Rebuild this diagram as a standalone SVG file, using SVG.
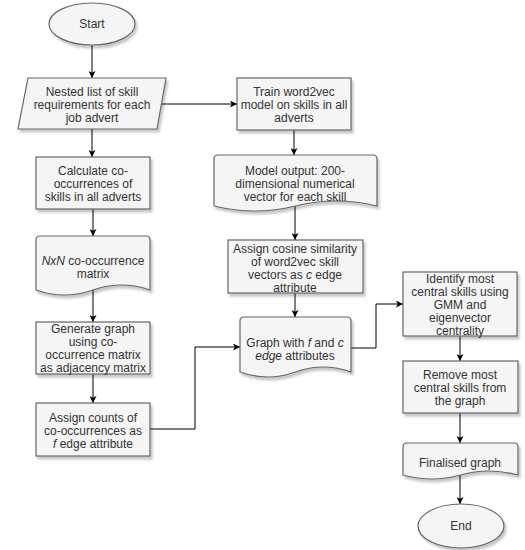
<svg xmlns="http://www.w3.org/2000/svg" width="525" height="550" viewBox="0 0 525 550">
<style>
.n{fill:#f5f5f5;stroke:#666666;stroke-width:1.2;filter:url(#sh)}
.t{font-family:"Liberation Sans",Arial,sans-serif;font-size:12px;fill:#333333;text-anchor:middle}
.c{fill:none;stroke:#000000;stroke-width:1;marker-end:url(#ar)}
</style>
<defs>
<filter id="sh" x="-10%" y="-10%" width="130%" height="130%">
<feDropShadow dx="2" dy="3" stdDeviation="0.8" flood-color="#000000" flood-opacity="0.22"/>
</filter>
<marker id="ar" viewBox="0 0 10 10" refX="10" refY="5" markerWidth="7" markerHeight="7" markerUnits="userSpaceOnUse" orient="auto">
<path d="M0,0 L10,5 L0,10 L2.5,5 Z" fill="#000000"/>
</marker>
</defs>
<rect width="525" height="550" fill="#ffffff"/>
<g id="connectors">
<path class="c" d="M92,45 V78"/>
<path class="c" d="M161,104 H237"/>
<path class="c" d="M92,129 V157"/>
<path class="c" d="M93,209 V236"/>
<path class="c" d="M93,290 V322"/>
<path class="c" d="M93,374 V403"/>
<path class="c" d="M150,429 H195 V347 H240"/>
<path class="c" d="M294,130 V155"/>
<path class="c" d="M295,206 V240"/>
<path class="c" d="M295,293 V317"/>
<path class="c" d="M351,348 H376 V304 H403"/>
<path class="c" d="M460,336 V361"/>
<path class="c" d="M460,413 V443"/>
<path class="c" d="M460,475 V504"/>
</g>
<g id="start">
<ellipse class="n" cx="92" cy="24" rx="43" ry="21"/>
<text class="t" x="92" y="28">Start</text>
</g>
<g id="nested">
<polygon class="n" points="28,78 166,78 157,129 18,129"/>
<text class="t" x="92" y="96">Nested list of skill</text>
<text class="t" x="92" y="109">requirements for each</text>
<text class="t" x="92" y="122">job advert</text>
</g>
<g id="train">
<rect class="n" x="237" y="78" width="114" height="52"/>
<text class="t" x="294" y="96">Train word2vec</text>
<text class="t" x="294" y="109">model on skills in all</text>
<text class="t" x="294" y="122">adverts</text>
</g>
<g id="calculate">
<rect class="n" x="36" y="157" width="114" height="52"/>
<text class="t" x="93" y="175">Calculate co-</text>
<text class="t" x="93" y="188">occurrences of</text>
<text class="t" x="93" y="201">skills in all adverts</text>
</g>
<g id="nxn">
<path class="n" d="M36,240 Q36,236 40,236 H146 Q150,236 150,240 V290 Q121.5,280 93,290 Q64.5,300 36,290 Z"/>
<text class="t" x="93" y="265"><tspan font-style="italic">NxN</tspan> co-occurrence</text>
<text class="t" x="93" y="278">matrix</text>
</g>
<g id="generate">
<rect class="n" x="36" y="322" width="114" height="52"/>
<text class="t" x="93" y="333">Generate graph</text>
<text class="t" x="93" y="346">using co-</text>
<text class="t" x="93" y="359">occurrence matrix</text>
<text class="t" x="93" y="372">as adjacency matrix</text>
</g>
<g id="assigncounts">
<rect class="n" x="36" y="403" width="114" height="53"/>
<text class="t" x="93" y="422">Assign counts of</text>
<text class="t" x="93" y="435">co-occurrences as</text>
<text class="t" x="93" y="448"><tspan font-style="italic">f</tspan> edge attribute</text>
</g>
<g id="model">
<path class="n" d="M214,159 Q214,155 218,155 H373 Q377,155 377,159 V206 Q336,196 295.5,206 Q255,216 214,206 Z"/>
<text class="t" x="295" y="175">Model output: 200-</text>
<text class="t" x="295" y="188">dimensional numerical</text>
<text class="t" x="295" y="201">vector for each skill</text>
</g>
<g id="cosine">
<rect class="n" x="228" y="240" width="135" height="53"/>
<text class="t" x="295" y="253">Assign cosine similarity</text>
<text class="t" x="295" y="266">of word2vec skill</text>
<text class="t" x="295" y="279">vectors as <tspan font-style="italic">c</tspan> edge</text>
<text class="t" x="295" y="292">attribute</text>
</g>
<g id="graph">
<path class="n" d="M240,321 Q240,317 244,317 H347 Q351,317 351,321 V372 Q323,362 295.5,372 Q268,382 240,372 Z"/>
<text class="t" x="295" y="347">Graph with <tspan font-style="italic">f</tspan> and <tspan font-style="italic">c</tspan></text>
<text class="t" x="295" y="360"><tspan font-style="italic">edge</tspan> attributes</text>
</g>
<g id="identify">
<rect class="n" x="403" y="272" width="114" height="64"/>
<text class="t" x="460" y="283">Identify most</text>
<text class="t" x="460" y="296">central skills using</text>
<text class="t" x="460" y="309">GMM and</text>
<text class="t" x="460" y="322">eigenvector</text>
<text class="t" x="460" y="335">centrality</text>
</g>
<g id="remove">
<rect class="n" x="403" y="361" width="115" height="52"/>
<text class="t" x="460" y="379">Remove most</text>
<text class="t" x="460" y="392">central skills from</text>
<text class="t" x="460" y="405">the graph</text>
</g>
<g id="finalised">
<path class="n" d="M403,447 Q403,443 407,443 H514 Q518,443 518,447 V475 Q489,467 460.5,475 Q432,483 403,475 Z"/>
<text class="t" x="460" y="467">Finalised graph</text>
</g>
<g id="end">
<ellipse class="n" cx="461" cy="526" rx="43" ry="22"/>
<text class="t" x="461" y="530">End</text>
</g>
</svg>
